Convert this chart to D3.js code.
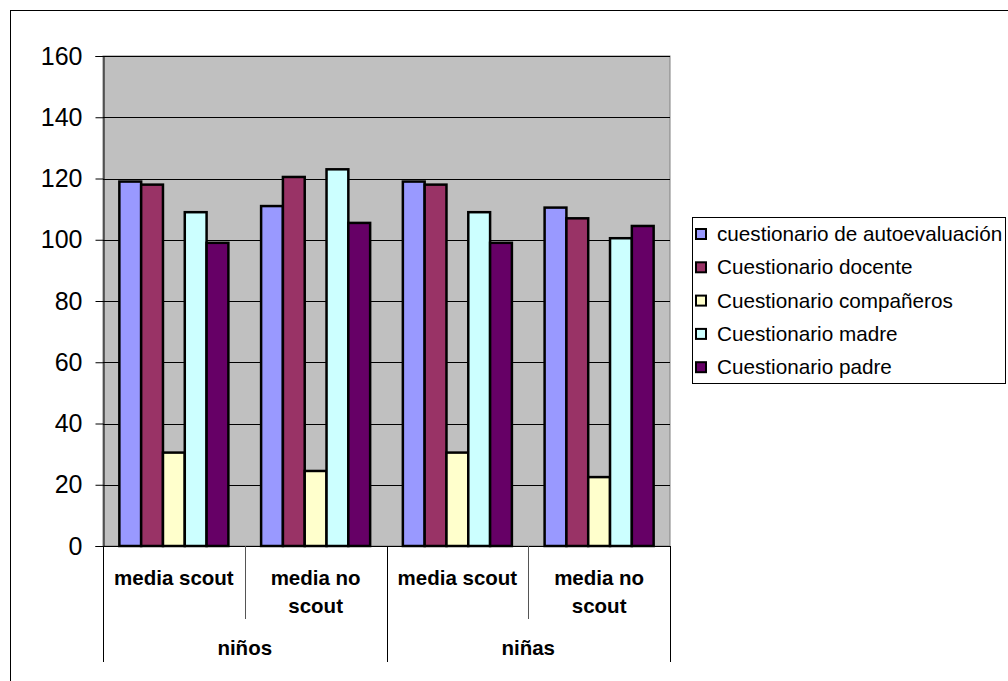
<!DOCTYPE html>
<html>
<head>
<meta charset="utf-8">
<script src="https://cdn.jsdelivr.net/npm/d3@7"></script>
<style>
  html, body { margin: 0; padding: 0; background: #fff; }
  svg { display: block; font-family: "Liberation Sans", Arial, sans-serif; }
</style>
</head>
<body>
<svg id="chart" width="1008" height="681"></svg>
<script>
// Subcategories (inner axis level) and their outer groups
const categories = ["media scout", "media no scout", "media scout", "media no scout"];
const categoryLines = [["media scout"], ["media no", "scout"], ["media scout"], ["media no", "scout"]];
const groups = ["niños", "niñas"];
const groupSize = 2;

// Series names and values per category
const seriesNames = [
  "cuestionario de autoevaluación",
  "Cuestionario docente",
  "Cuestionario compañeros",
  "Cuestionario madre",
  "Cuestionario padre"
];
const autoevaluacion = [119, 111, 119, 110.5];
const docente        = [118, 120.5, 118, 107];
const companeros     = [30.5, 24.5, 30.5, 22.5];
const madre          = [109, 123, 109, 100.5];
const padre          = [99, 105.5, 99, 104.5];
const seriesValues = [autoevaluacion, docente, companeros, madre, padre];
const seriesColors = ["#9999FF", "#993366", "#FFFFCC", "#CCFFFF", "#660066"];

const yTicks = [0, 20, 40, 60, 80, 100, 120, 140, 160];

const svg = d3.select("#chart");

// Outer chart frame (extends past the right and bottom edges)
svg.append("rect")
  .attr("x", 10.5).attr("y", 10.5)
  .attr("width", 1100).attr("height", 800)
  .attr("fill", "none").attr("stroke", "#000").attr("stroke-width", 1);

const plot = { left: 103, right: 670, top: 56, bottom: 546 };

const y = d3.scaleLinear().domain([0, 160]).range([plot.bottom, plot.top]);
const x0 = d3.scaleBand().domain(d3.range(categories.length))
  .range([plot.left, plot.right]).padding(0);
const gapRatio = 1.5; // gap between clusters relative to one bar width
const barW = x0.bandwidth() / (seriesNames.length + gapRatio);
const x1 = d3.scaleBand().domain(d3.range(seriesNames.length))
  .range([barW * gapRatio / 2, x0.bandwidth() - barW * gapRatio / 2]).padding(0);

// Plot background
svg.append("rect")
  .attr("x", plot.left).attr("y", plot.top)
  .attr("width", plot.right - plot.left).attr("height", plot.bottom - plot.top)
  .attr("fill", "#C0C0C0").attr("stroke", "#808080").attr("stroke-width", 1);

// Horizontal gridlines
svg.append("g").selectAll("line").data(yTicks.filter(d => d > 0)).join("line")
  .attr("x1", plot.left).attr("x2", plot.right)
  .attr("y1", d => Math.round(y(d)) + 0.5).attr("y2", d => Math.round(y(d)) + 0.5)
  .attr("stroke", "#000").attr("stroke-width", 1);

// Bars
const flat = [];
seriesValues.forEach((vals, s) => vals.forEach((v, c) => flat.push({ s, c, v })));
svg.append("g").selectAll("rect").data(flat).join("rect")
  .attr("x", d => x0(d.c) + x1(d.s))
  .attr("y", d => y(d.v))
  .attr("width", x1.bandwidth())
  .attr("height", d => y(0) - y(d.v))
  .attr("fill", d => seriesColors[d.s])
  .attr("stroke", "#000").attr("stroke-width", 2.5);

// Y axis
const yAxis = d3.axisLeft(y).tickValues(yTicks).tickSize(8).tickPadding(13);
const yg = svg.append("g").attr("transform", `translate(${plot.left + 0.5},0)`).call(yAxis);
yg.select(".domain").attr("stroke", "#000");
yg.selectAll(".tick line").attr("stroke", "#000");
yg.selectAll(".tick text")
  .attr("font-family", "'Liberation Sans', Arial, sans-serif")
  .attr("font-size", 25).attr("fill", "#000");

// X axis baseline
svg.append("line")
  .attr("x1", plot.left).attr("x2", plot.right)
  .attr("y1", plot.bottom + 0.5).attr("y2", plot.bottom + 0.5)
  .attr("stroke", "#000");

// Multi-level category dividers
const boundaries = d3.range(categories.length + 1).map(i =>
  i < categories.length ? x0(i) : plot.right);
svg.append("g").selectAll("line").data(boundaries).join("line")
  .attr("x1", d => Math.round(d) + 0.5).attr("x2", d => Math.round(d) + 0.5)
  .attr("y1", plot.bottom)
  .attr("y2", (d, i) => i % groupSize === 0 ? 662 : 619)
  .attr("stroke", (d, i) => i % groupSize === 0 ? "#000" : "#555")
  .attr("stroke-width", 1);

// Category labels
const catText = svg.append("g").selectAll("text").data(categoryLines).join("text")
  .attr("x", (d, i) => x0(i) + x0.bandwidth() / 2)
  .attr("y", 585)
  .attr("text-anchor", "middle")
  .attr("font-size", 20.5).attr("font-weight", "bold").attr("fill", "#000");
catText.selectAll("tspan").data(d => d).join("tspan")
  .attr("x", function() { return d3.select(this.parentNode).attr("x"); })
  .attr("dy", (d, i) => i === 0 ? 0 : 28)
  .text(d => d);

// Group labels
svg.append("g").selectAll("text").data(groups).join("text")
  .attr("x", (d, g) => (x0(g * groupSize) + (g * groupSize + groupSize < categories.length ? x0(g * groupSize + groupSize) : plot.right)) / 2)
  .attr("y", 655)
  .attr("text-anchor", "middle")
  .attr("font-size", 20.5).attr("font-weight", "bold").attr("fill", "#000")
  .text(d => d);

// Legend
const legend = { x: 692, y: 217, w: 313, h: 166 };
svg.append("rect")
  .attr("x", legend.x + 0.5).attr("y", legend.y + 0.5)
  .attr("width", legend.w).attr("height", legend.h)
  .attr("fill", "#fff").attr("stroke", "#000").attr("stroke-width", 1);
const rowH = 33.3;
const items = svg.append("g").selectAll("g").data(seriesNames).join("g")
  .attr("transform", (d, i) => `translate(${legend.x}, ${234 + i * rowH})`);
items.append("rect")
  .attr("x", 4).attr("y", -5).attr("width", 10).attr("height", 10)
  .attr("fill", (d, i) => seriesColors[i])
  .attr("stroke", "#000").attr("stroke-width", 2);
items.append("text")
  .attr("x", 25).attr("y", 7)
  .attr("font-size", 20.7).attr("fill", "#000")
  .text(d => d);
</script>
</body>
</html>
